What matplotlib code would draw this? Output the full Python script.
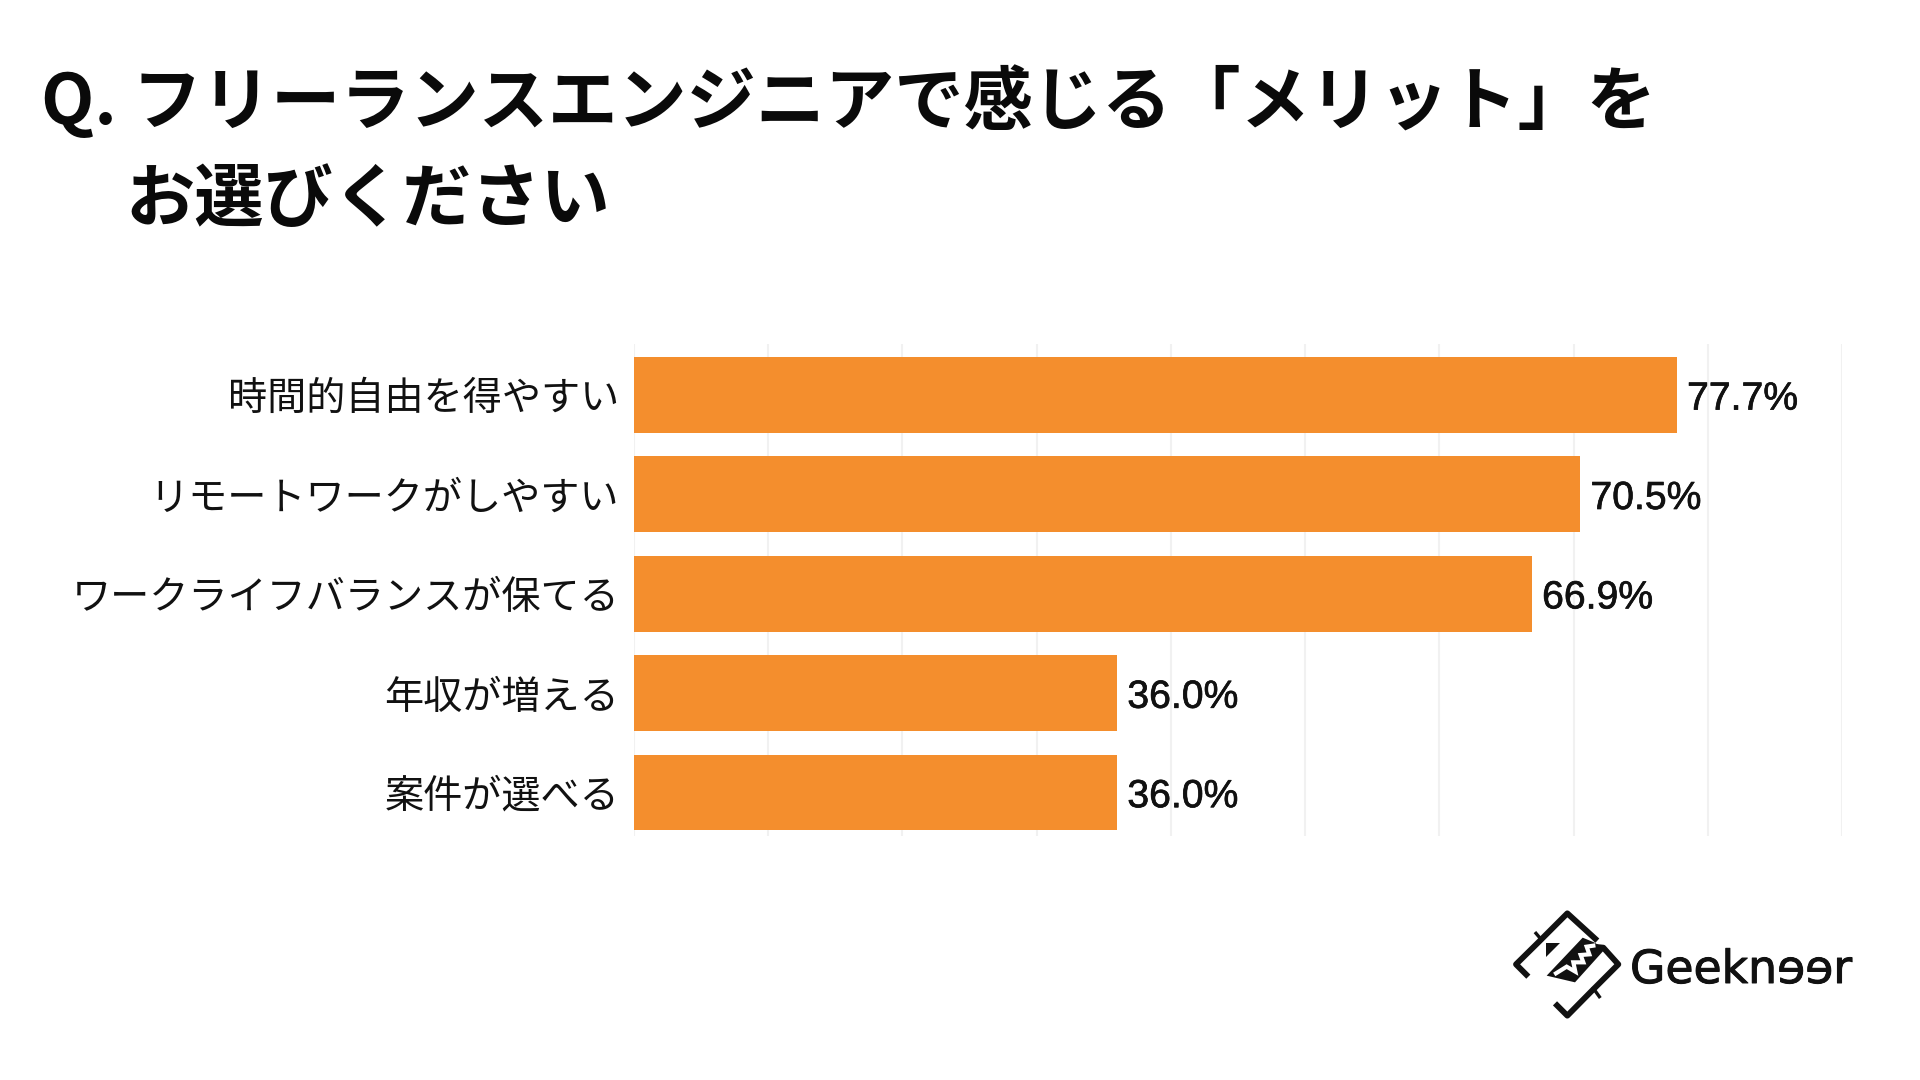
import matplotlib
matplotlib.use("Agg")
import matplotlib.pyplot as plt
import matplotlib.patheffects as pe
from matplotlib.patches import Polygon

plt.rcParams['font.family'] = ['Noto Sans CJK JP', 'DejaVu Sans']

categories = ["時間的自由を得やすい", "リモートワークがしやすい", "ワークライフバランスが保てる", "年収が増える", "案件が選べる"]
values = [77.7, 70.5, 66.9, 36.0, 36.0]
value_labels = ["77.7%", "70.5%", "66.9%", "36.0%", "36.0%"]
grid_ticks = [0, 10, 20, 30, 40, 50, 60, 70, 80, 90]
title_line1 = "Q. フリーランスエンジニアで感じる「メリット」を"
title_line2 = "お選びください"
brand = "Geeknɘɘr"

W, H = 1920, 1080
fig = plt.figure(figsize=(19.2, 10.8), dpi=100, facecolor='white')

L, R, T, B = 634, 1842, 344, 836
ax = fig.add_axes([L / W, 1 - B / H, (R - L) / W, (B - T) / H])
ax.set_xlim(0, 90)
ax.set_ylim((B - 394.9) / 99.4, (T - 394.9) / 99.4)
ax.barh(range(len(values)), values, height=0.762, color='#F48E2D', zorder=3)
ax.set_xticks(grid_ticks)
ax.set_xticklabels([])
ax.set_yticks(range(len(categories)))
ax.set_yticklabels(categories, fontsize=28.2, color='#111111')
ax.tick_params(axis='both', length=0)
ax.tick_params(axis='y', pad=10.6)
ax.grid(axis='x', color='#F1F1F1', linewidth=1.5, zorder=0)
ax.set_axisbelow(True)
for s in ax.spines.values():
    s.set_visible(False)

thick = [pe.withStroke(linewidth=0.5, foreground='#111111')]
for i, (v, lab) in enumerate(zip(values, value_labels)):
    ax.annotate(lab, (v, i), xytext=(7.3, -0.5), textcoords='offset points',
                va='center_baseline', ha='left', fontsize=28.2, color='#111111',
                family='Liberation Sans', path_effects=thick)

# Page-level overlay in pixel coordinates
ov = fig.add_axes([0, 0, 1, 1], facecolor='none')
ov.set_xlim(0, W)
ov.set_ylim(H, 0)
ov.axis('off')
ov.text(41, 124, title_line1, fontsize=49.9, fontweight='bold', color='#0a0a0a', va='baseline', ha='left')
ov.text(125, 221, title_line2, fontsize=49.9, fontweight='bold', color='#0a0a0a', va='baseline', ha='left')
ov.text(1630, 983, brand, fontsize=32.9, family='DejaVu Sans', color='#111111', va='baseline', ha='left',
        path_effects=[pe.withStroke(linewidth=0.7, foreground='#111111')])


def px(points):
    return [(1510 + x / 3, 905 + y / 3) for x, y in points]


ov.plot(*zip(*px([(55, 215), (18, 178), (82, 115), (172, 25), (262, 107)])), color='#111111', lw=4.2,
        solid_joinstyle='round', solid_capstyle='butt')
ov.plot(*zip(*px([(250, 125), (280, 128), (325, 178), (245, 258), (172, 332), (135, 295)])), color='#111111', lw=4.2,
        solid_joinstyle='round', solid_capstyle='butt')
ov.plot(*zip(*px([(78, 85), (95, 105)])), color='#111111', lw=2.4)
ov.plot(*zip(*px([(250, 250), (268, 275)])), color='#111111', lw=2.4)
ov.add_patch(Polygon(px([(150, 115), (107, 115), (107, 155)]), closed=True, color='#111111', lw=0))
ov.add_patch(Polygon(px([(218, 98), (252, 112), (285, 132), (195, 232), (110, 212)]), closed=True, color='#111111', lw=0))
ov.plot(*zip(*px([(250, 122), (230, 125), (238, 148), (212, 150), (220, 172), (190, 172), (196, 200), (170, 185), (138, 205)])),
        color='white', lw=3.0, solid_joinstyle='miter')

fig.savefig('out.png', dpi=100, facecolor='white')
